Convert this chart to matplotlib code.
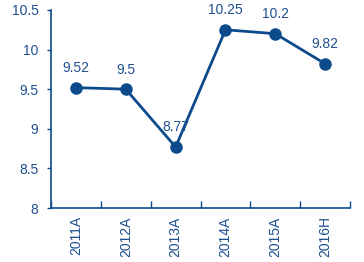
import matplotlib.pyplot as plt

plt.rcParams['font.family'] = ['Liberation Sans', 'DejaVu Sans']

years = ["2011A", "2012A", "2013A", "2014A", "2015A", "2016H"]
values = [9.52, 9.5, 8.77, 10.25, 10.2, 9.82]
yticks = [8, 8.5, 9, 9.5, 10, 10.5]

blue = "#0c4a8c"
txt = "#1d4f8f"

fig = plt.figure(figsize=(3.64, 2.62), dpi=100)
ax = fig.add_axes([0.140, 0.206, 0.822, 0.756])

x = list(range(len(years)))
ax.plot(x, values, color=blue, lw=2, marker="o", ms=8, zorder=3)
for xi, v in zip(x, values):
    ax.text(xi, v + 0.16, f"{v:g}", ha="center", va="bottom", color=txt, fontsize=10)

ax.set_xlim(-0.5, len(years) - 0.5)
ax.set_ylim(8, 10.5)
ax.set_yticks(yticks)
ax.set_yticklabels([f"{t:g}" for t in yticks], color=txt, fontsize=10)

# category labels in the middle, ticks at the boundaries
ax.set_xticks(x)
ax.set_xticklabels(years, rotation=90, color=txt, fontsize=10)
ax.tick_params(axis="x", length=0, pad=6)
ax.set_xticks([i - 0.5 for i in range(len(years) + 1)], minor=True)
ax.tick_params(axis="x", which="minor", direction="in", length=5, color=blue, width=1)
ax.tick_params(axis="y", direction="out", length=3, color=blue, width=1, pad=6)

for s in ["top", "right"]:
    ax.spines[s].set_visible(False)
for s in ["left", "bottom"]:
    ax.spines[s].set_color(blue)
    ax.spines[s].set_linewidth(1.2)

fig.savefig("out.png", dpi=100)
